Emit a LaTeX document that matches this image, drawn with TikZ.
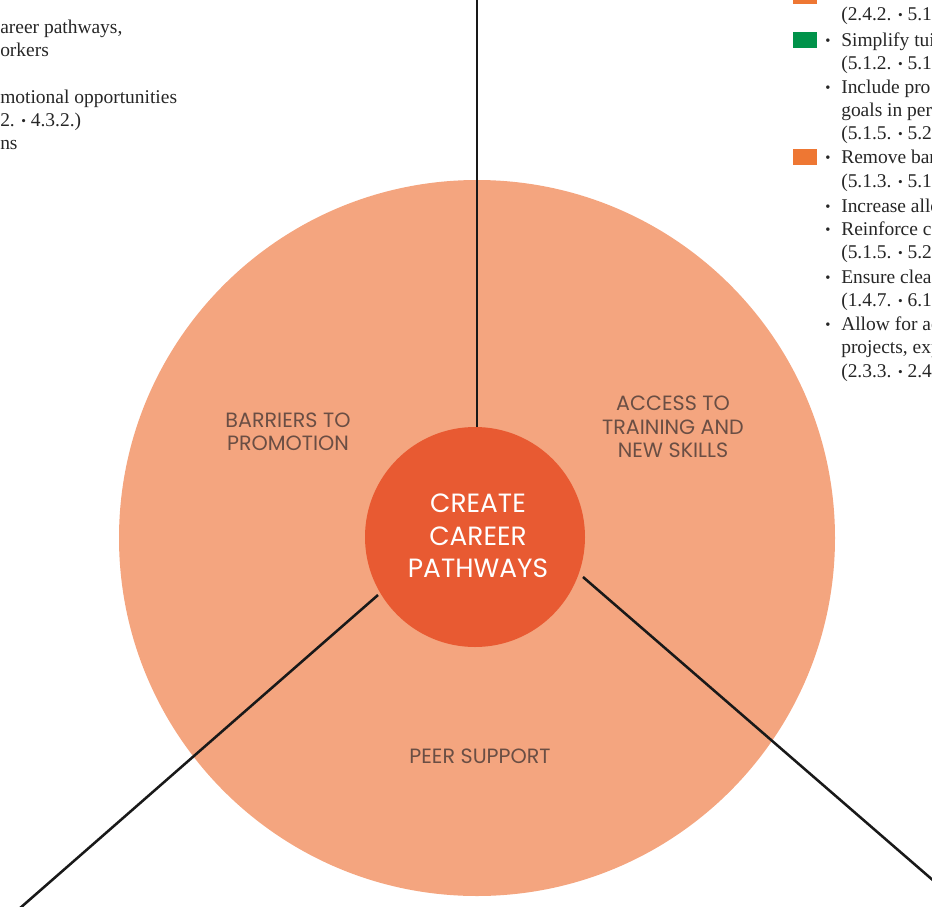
\documentclass[tikz,border=0pt]{standalone}
\usepackage{fontspec}
\setmainfont{Liberation Serif}
\newfontfamily\labelfont{Poppins}
\definecolor{outerfill}{HTML}{F4A57F}
\definecolor{hubfill}{HTML}{E85A32}
\definecolor{labelgray}{HTML}{6A4E44}
\definecolor{keygreen}{HTML}{00934A}
\definecolor{keyorange}{HTML}{EE7733}
\newcommand{\mybul}{{\fontsize{10}{10}\selectfont\raisebox{0.3pt}{\textbullet}}}
\tikzset{
  px/.style={x=0.75pt,y=-0.75pt},
  spoke/.style={line width=1.9pt,black!90},
  seglabel/.style={font=\labelfont\fontsize{15.5}{17.6}\selectfont,text=labelgray,align=center,inner sep=0pt},
  hublabel/.style={font=\labelfont\fontsize{19.8}{24.4}\selectfont,text=white,align=center,inner sep=0pt},
  bodytext/.style={font=\fontsize{14.6}{17.6}\selectfont,anchor=base west,inner sep=0pt,text=black!85},
  bul/.style={font=\fontsize{11}{11}\selectfont,anchor=base west,inner sep=0pt,text=black!85},
  keysq/.style={inner sep=0pt,minimum width=18pt,minimum height=11.5pt,anchor=north west}
}
\begin{document}
\begin{tikzpicture}[px]
\useasboundingbox (0,0) rectangle (932,907);
\begin{scope}
\clip (0,0) rectangle (932,907);
% outer disc and hub
\node[circle,fill=outerfill,minimum size=537pt,inner sep=0pt] (outer) at (477,538) {};
\node[circle,fill=hubfill,minimum size=165pt,inner sep=0pt] (hub) at (475,537) {};
% spokes
\coordinate (topend) at (477,-2);
\coordinate (topstart) at (477,427);
\coordinate (llstart) at (378,595);
\coordinate (llend) at (19,909);
\coordinate (lrstart) at (583,577);
\coordinate (lrend) at (935,882);
\draw[spoke] (topstart) -- (topend);
\draw[spoke] (llstart) -- (llend);
\draw[spoke] (lrstart) -- (lrend);
% labels
\node[hublabel] (hubtext) at (478,536) {CREATE\\CAREER\\PATHWAYS};
\node[seglabel] (barriers) at (288,432) {BARRIERS TO\\PROMOTION};
\node[seglabel] (access) at (673,427) {ACCESS TO\\TRAINING AND\\NEW SKILLS};
\node[seglabel] (peer) at (480,756) {PEER SUPPORT};
% left text column
\node[bodytext] (l1) at (0,33) {areer pathways,};
\node[bodytext] (l2) at (0,56) {orkers};
\node[bodytext] (l3) at (0,103) {motional opportunities};
\node[bodytext] (l4) at (0,126) {2. \mybul{} 4.3.2.)};
\node[bodytext] (l5) at (0,149) {ns};
% right text column
\node[keysq,fill=keyorange] (sq0) at (793,-12) {};
\node[bodytext] (r1) at (841,20) {(2.4.2. \mybul{} 5.1};
\node[keysq,fill=keygreen] (sq1) at (793,32) {};
\node[bul] (b1) at (825,45) {\textbullet};
\node[bodytext] (r2) at (841,46) {Simplify tui};
\node[bodytext] (r3) at (841,69) {(5.1.2. \mybul{} 5.1};
\node[bul] (b2) at (825,92) {\textbullet};
\node[bodytext] (r4) at (841,93) {Include pro};
\node[bodytext] (r5) at (841,116) {goals in per};
\node[bodytext] (r6) at (841,139) {(5.1.5. \mybul{} 5.2};
\node[keysq,fill=keyorange] (sq2) at (793,149) {};
\node[bul] (b3) at (825,162) {\textbullet};
\node[bodytext] (r7) at (841,163) {Remove bar};
\node[bodytext] (r8) at (841,187) {(5.1.3. \mybul{} 5.1};
\node[bul] (b4) at (825,211) {\textbullet};
\node[bodytext] (r9) at (841,212) {Increase allo};
\node[bul] (b5) at (825,234) {\textbullet};
\node[bodytext] (r10) at (841,235) {Reinforce c};
\node[bodytext] (r11) at (841,258) {(5.1.5. \mybul{} 5.2};
\node[bul] (b6) at (825,282) {\textbullet};
\node[bodytext] (r12) at (841,283) {Ensure clea};
\node[bodytext] (r13) at (841,306) {(1.4.7. \mybul{} 6.1};
\node[bul] (b7) at (825,329) {\textbullet};
\node[bodytext] (r14) at (841,330) {Allow for ac};
\node[bodytext] (r15) at (841,353) {projects, exp};
\node[bodytext] (r16) at (841,377) {(2.3.3. \mybul{} 2.4};
\end{scope}
\end{tikzpicture}
\end{document}
